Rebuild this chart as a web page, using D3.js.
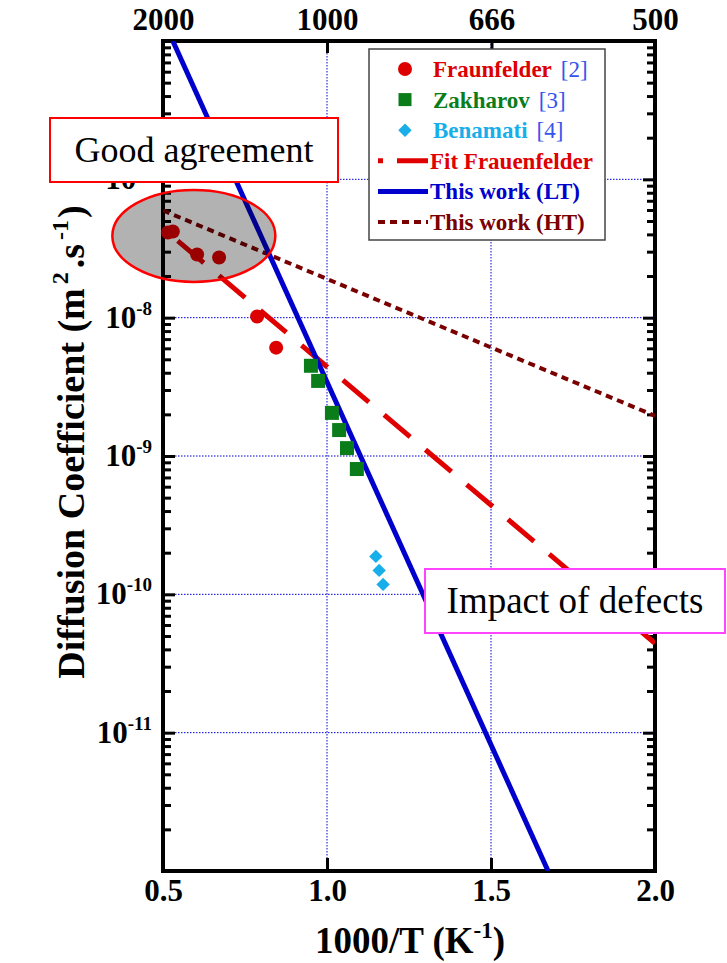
<!DOCTYPE html>
<html>
<head>
<meta charset="utf-8">
<script src="https://cdn.jsdelivr.net/npm/d3@7"></script>
<style>
  body { margin: 0; background: #ffffff; }
  svg { display: block; font-family: "Liberation Serif", "Times New Roman", serif; }
</style>
</head>
<body>
<div id="chart"></div>
<script>
// values
const xTicks = [0.5, 1.0, 1.5, 2.0];
const xTickLabels = ["0.5", "1.0", "1.5", "2.0"];
const topTemps = [2000, 1000, 666, 500];
const topLabels = ["2000", "1000", "666", "500"];
const yLabelExps = [-7, -8, -9, -10, -11];

const fraunX = [0.515, 0.530, 0.604, 0.671, 0.787, 0.845];
const fraunY = [4.13e-8, 4.2e-8, 2.86e-8, 2.72e-8, 1.02e-8, 6.07e-9];
const zakX = [0.951, 0.973, 1.015, 1.037, 1.061, 1.091];
const zakY = [4.49e-9, 3.49e-9, 2.05e-9, 1.54e-9, 1.14e-9, 8.05e-10];
const benX = [1.149, 1.159, 1.171];
const benY = [1.88e-10, 1.49e-10, 1.18e-10];

const fitX = [0.545, 2.0];
const fitY = [3.59e-8, 4.42e-11];
const ltX = [0.530, 1.674];
const ltY = [1e-6, 1e-12];
const htX = [0.5, 2.0];
const htY = [5.96e-8, 1.95e-9];

const W = 727, H = 963;
const pL = 163, pR = 655, pT = 41, pB = 871;

const svg = d3.select("#chart").append("svg")
  .attr("width", W).attr("height", H);

const x = d3.scaleLinear().domain([0.5, 2.0]).range([pL, pR]);
const y = d3.scaleLog().domain([1e-12, 1e-6]).range([pB, pT]);

const decades = d3.range(-12, -5).map(e => Math.pow(10, e));
const minors = [];
decades.slice(0, -1).forEach(d => { for (let k = 2; k <= 9; k++) minors.push(d * k); });

svg.append("defs").append("clipPath").attr("id", "plot")
  .append("rect").attr("x", pL).attr("y", pT)
  .attr("width", pR - pL).attr("height", pB - pT);

// grid
const grid = svg.append("g")
  .attr("stroke", "#0000dd").attr("stroke-width", 1).attr("stroke-dasharray", "1.5,1.5");
grid.selectAll("line.h").data(yLabelExps).enter().append("line")
  .attr("x1", pL).attr("x2", pR)
  .attr("y1", d => y(Math.pow(10, d))).attr("y2", d => y(Math.pow(10, d)));
grid.selectAll("line.v").data([1.0, 1.5]).enter().append("line")
  .attr("y1", pT).attr("y2", pB)
  .attr("x1", d => x(d)).attr("x2", d => x(d));

// axes
function styleAxis(g) {
  g.select(".domain").remove();
  g.selectAll(".tick line").attr("stroke", "#000").attr("stroke-width", 3);
  g.selectAll(".tick text").attr("fill", "#000")
    .style("font-size", "31px").style("font-weight", "bold")
    .style("font-family", "'Liberation Serif', serif");
}

svg.append("g").attr("transform", `translate(0,${pB})`)
  .call(d3.axisBottom(x).tickValues(xTicks).tickSize(-13).tickPadding(8)
    .tickFormat((d, i) => xTickLabels[i]))
  .call(styleAxis)
  .call(g => g.selectAll(".tick text").attr("dy", "0.71em"));

svg.append("g").attr("transform", `translate(0,${pT})`)
  .call(d3.axisTop(x).tickValues(topTemps.map(t => 1000 / t)).tickSize(-12).tickPadding(11)
    .tickFormat((d, i) => topLabels[i]))
  .call(styleAxis);

svg.append("g").attr("transform", `translate(${pL},0)`)
  .call(d3.axisLeft(y).tickValues(decades).tickSize(-12).tickFormat(""))
  .call(styleAxis);
svg.append("g").attr("transform", `translate(${pL},0)`)
  .call(d3.axisLeft(y).tickValues(minors).tickSize(-8).tickFormat(""))
  .call(styleAxis);
svg.append("g").attr("transform", `translate(${pR},0)`)
  .call(d3.axisRight(y).tickValues(decades).tickSize(-12).tickFormat(""))
  .call(styleAxis);
svg.append("g").attr("transform", `translate(${pR},0)`)
  .call(d3.axisRight(y).tickValues(minors).tickSize(-8).tickFormat(""))
  .call(styleAxis);

// y tick labels 10^n
const yLab = svg.append("g").attr("font-weight", "bold").attr("fill", "#000");
yLabelExps.forEach(e => {
  const t = yLab.append("text")
    .attr("x", pL - 11).attr("y", y(Math.pow(10, e)) + 10)
    .attr("text-anchor", "end");
  t.append("tspan").style("font-size", "31px").text("10");
  t.append("tspan").style("font-size", "19px").attr("dy", -13).text(e);
});

// frame
svg.append("rect").attr("x", pL).attr("y", pT)
  .attr("width", pR - pL).attr("height", pB - pT)
  .attr("fill", "none").attr("stroke", "#000").attr("stroke-width", 4);

// lines
const line = d3.line().x(d => x(d[0])).y(d => y(d[1]));
const plot = svg.append("g").attr("clip-path", "url(#plot)");

plot.append("path").datum(d3.zip(htX, htY))
  .attr("d", line).attr("fill", "none")
  .attr("stroke", "#7a0000").attr("stroke-width", 4).attr("stroke-dasharray", "7,5");

plot.append("path").datum(d3.zip(fitX, fitY))
  .attr("d", line).attr("fill", "none")
  .attr("stroke", "#e00000").attr("stroke-width", 5).attr("stroke-dasharray", "34,20");

plot.append("path").datum(d3.zip(ltX, ltY))
  .attr("d", line).attr("fill", "none")
  .attr("stroke", "#0000cc").attr("stroke-width", 5);

// points
svg.append("g").selectAll("circle").data(d3.zip(fraunX, fraunY)).enter().append("circle")
  .attr("cx", d => x(d[0])).attr("cy", d => y(d[1])).attr("r", 7)
  .attr("fill", "#dd0000");

svg.append("g").selectAll("rect").data(d3.zip(zakX, zakY)).enter().append("rect")
  .attr("x", d => x(d[0]) - 7).attr("y", d => y(d[1]) - 7)
  .attr("width", 14).attr("height", 14)
  .attr("fill", "#0a7d1a");

const diamond = d3.symbol().type(d3.symbolSquare).size(90);
svg.append("g").selectAll("path").data(d3.zip(benX, benY)).enter().append("path")
  .attr("d", diamond)
  .attr("transform", d => `translate(${x(d[0])},${y(d[1])}) rotate(45)`)
  .attr("fill", "#18aeea");

// highlight ellipse
svg.append("ellipse")
  .attr("cx", x(0.594)).attr("cy", y(3.9e-8))
  .attr("rx", 81.5).attr("ry", 46)
  .attr("fill", "#000").attr("fill-opacity", 0.3)
  .attr("stroke", "#ff0000").attr("stroke-width", 2.5);

// legend
const lg = svg.append("g");
lg.append("rect").attr("x", 369).attr("y", 49).attr("width", 236).attr("height", 191)
  .attr("fill", "#fff").attr("stroke", "#444").attr("stroke-width", 1.5);

const legendItems = [
  {name: "Fraunfelder", ref: "[2]", color: "#dd0000", kind: "circle"},
  {name: "Zakharov", ref: "[3]", color: "#0a7d1a", kind: "square"},
  {name: "Benamati", ref: "[4]", color: "#18aeea", kind: "diamond"},
  {name: "Fit Frauenfelder", color: "#e00000", kind: "fit"},
  {name: "This work (LT)", color: "#0000cc", kind: "lt"},
  {name: "This work (HT)", color: "#7a0000", kind: "ht"}
];
legendItems.forEach((it, i) => {
  const cy = 69 + i * 30.6;
  if (it.kind === "circle") {
    lg.append("circle").attr("cx", 405).attr("cy", cy).attr("r", 7).attr("fill", it.color);
  } else if (it.kind === "square") {
    lg.append("rect").attr("x", 398.5).attr("y", cy - 6.5).attr("width", 13).attr("height", 13).attr("fill", it.color);
  } else if (it.kind === "diamond") {
    lg.append("path").attr("d", diamond).attr("transform", `translate(405,${cy}) rotate(45)`).attr("fill", it.color);
  } else {
    const dash = it.kind === "fit" ? "5,14,34,20" : it.kind === "ht" ? "7,5" : null;
    lg.append("line").attr("x1", 378).attr("x2", 428).attr("y1", cy).attr("y2", cy)
      .attr("stroke", it.color).attr("stroke-width", it.kind === "ht" ? 4 : 5)
      .attr("stroke-dasharray", dash);
  }
  const t = lg.append("text")
    .attr("x", it.ref ? 433 : 430).attr("y", cy + 8)
    .style("font-size", "23px");
  t.append("tspan").attr("font-weight", "bold").attr("fill", it.color).text(it.name);
  if (it.ref) t.append("tspan").attr("dx", 9).attr("fill", "#3355ee").text(it.ref);
});

// annotation boxes
function note(x0, y0, w, h, color, label, size) {
  const g = svg.append("g");
  g.append("rect").attr("x", x0).attr("y", y0).attr("width", w).attr("height", h)
    .attr("fill", "#fff").attr("stroke", color).attr("stroke-width", 2);
  g.append("text").attr("x", x0 + w / 2).attr("y", y0 + h / 2 + size * 0.33)
    .attr("text-anchor", "middle").style("font-size", size + "px").attr("fill", "#000")
    .text(label);
}
note(50, 118, 288, 64, "#ff0000", "Good agreement", 36);
note(425, 569, 300, 64, "#ff44ff", "Impact of defects", 37);

// axis titles
const xt = svg.append("text").attr("x", 410).attr("y", 953)
  .attr("text-anchor", "middle").attr("font-weight", "bold").style("font-size", "37px");
xt.append("tspan").text("1000/T (K");
xt.append("tspan").style("font-size", "23px").attr("dy", -15).text("-1");
xt.append("tspan").attr("dy", 15).text(")");

const yt = svg.append("text")
  .attr("transform", "translate(84,442) rotate(-90)")
  .attr("text-anchor", "middle").attr("font-weight", "bold").style("font-size", "38px");
yt.append("tspan").text("Diffusion Coefficient (m");
yt.append("tspan").style("font-size", "24px").attr("dy", -16).attr("dx", 4).text("2");
yt.append("tspan").attr("dy", 16).attr("dx", 4).text(".s");
yt.append("tspan").style("font-size", "24px").attr("dy", -16).attr("dx", 4).text("-1");
yt.append("tspan").attr("dy", 16).attr("dx", 2).text(")");
</script>
</body>
</html>
